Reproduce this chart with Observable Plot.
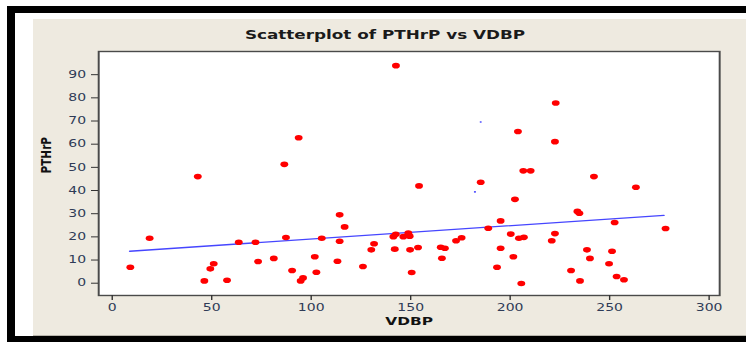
<!DOCTYPE html>
<html><head><meta charset="utf-8">
<script src="https://cdn.jsdelivr.net/npm/d3@7"></script>
<script src="https://cdn.jsdelivr.net/npm/@observablehq/plot@0.6"></script>
<style>
html,body{margin:0;padding:0;background:#fff;overflow:hidden}
#wrap{position:relative;width:746px;height:342px;overflow:hidden;background:#fff}
.blk{position:absolute;background:#000}
#beige{position:absolute;left:33px;top:19px;width:713px;height:316px;background:#eeeae0;border-bottom:1px solid #b8b5ac}
#stretch{position:absolute;left:0;top:0;height:342px;transform-origin:0 0}
#title{position:absolute;top:28px;height:15px;line-height:15px;text-align:center;font:bold 12px "DejaVu Sans",sans-serif;color:#1a1a1a;white-space:nowrap}
</style></head><body>
<div id="wrap">
  <div class="blk" style="left:7px;top:6px;width:739px;height:7px"></div>
  <div class="blk" style="left:7px;top:6px;width:8px;height:336px"></div>
  <div class="blk" style="left:7px;top:336px;width:739px;height:6px"></div>
  <div id="beige"></div>
  <div id="stretch"><div id="title">Scatterplot of PTHrP vs VDBP</div></div>
</div>
<script>
// Data
const vdbp = [9.1,18.8,43.0,46.3,49.3,51.0,57.7,63.6,72.0,73.3,81.2,86.5,87.3,90.4,93.7,94.7,95.9,101.8,102.6,105.3,
  113.2,114.3,114.3,116.8,126.0,130.2,131.6,141.3,142.5,142.0,142.6,146.3,148.8,149.5,149.7,150.5,153.7,154.2,165.1,167.2,
  165.7,172.8,175.6,185.2,189.0,193.4,195.2,195.2,200.3,201.6,202.4,203.9,205.6,204.4,206.9,206.6,210.3,220.9,222.5,222.5,
  222.9,230.6,233.8,234.8,235.1,238.6,240.1,242.1,249.7,251.2,252.5,253.5,257.2,263.2,278.1];
const pthrp = [6.9,19.4,46.0,1.0,6.2,8.4,1.3,17.7,17.7,9.4,10.7,51.3,19.7,5.5,62.8,1.0,2.3,11.4,4.7,19.4,
  9.5,29.5,18.1,24.3,7.2,14.4,17.0,20.1,21.1,14.7,93.9,20.1,21.6,20.3,14.4,4.6,15.4,42.0,15.5,15.1,
  10.8,18.3,19.6,43.6,23.7,6.9,26.9,15.1,21.2,11.4,36.2,65.5,-0.1,19.4,19.8,48.5,48.5,18.3,21.4,61.1,
  77.8,5.5,31.0,30.2,1.0,14.4,10.7,46.0,8.4,13.8,26.2,2.9,1.5,41.4,23.6];
// Fitted regression line end points
const fitX = [8.8, 277.3];
const fitY = [13.8, 29.3];
// small blue specks in the picture
const speckX = [185.2, 182.3];
const speckY = [69.6, 39.4];
const xTicks = [0, 50, 100, 150, 200, 250, 300];
const yTicks = [0, 10, 20, 30, 40, 50, 60, 70, 80, 90];

const S = 1.4; // horizontal stretch of the reference image
const W = 746 / S;
const stretch = document.getElementById("stretch");
stretch.style.width = W + "px";
stretch.style.transform = `scaleX(${S})`;
const title = document.getElementById("title");
title.style.left = (385 / S - 150) + "px";
title.style.width = "300px";

const points = vdbp.map((x, i) => ({x, y: pthrp[i]}));
const fit = fitX.map((x, i) => ({x, y: fitY[i]}));
const specks = speckX.map((x, i) => ({x, y: speckY[i]}));

const chart = Plot.plot({
  width: W,
  height: 342,
  marginLeft: 98 / S,
  marginRight: 27 / S,
  marginTop: 51,
  marginBottom: 47,
  style: {background: "transparent", fontFamily: "DejaVu Sans, sans-serif", fontSize: "10px", color: "#2f3b57", position: "absolute", left: "0px", top: "0px", maxWidth: "none"},
  x: {domain: [-6.8, 305.3]},
  y: {domain: [-5.3, 100]},
  marks: [
    Plot.frame({fill: "white", stroke: "#4a4a4a", strokeWidth: 1.4}),
    Plot.axisX({ticks: xTicks, tickFormat: d => String(d), tickSize: 5, tickPadding: 3, stroke: "#333", label: null}),
    Plot.axisY({ticks: yTicks, tickFormat: d => String(d), tickSize: 5, tickPadding: 4, stroke: "#333", label: null}),
    Plot.text(["VDBP"], {frameAnchor: "bottom", dy: 26, lineAnchor: "middle", fontWeight: "bold", fontSize: 11, fill: "#111"}),
    Plot.text(["PTHrP"], {frameAnchor: "left", dx: 32.9 - 98 / S, rotate: -90, lineAnchor: "middle", fontWeight: "bold", fontSize: 10.5, fill: "#111"}),
    Plot.line(fit, {x: "x", y: "y", stroke: "#4646ff", strokeWidth: 1.3}),
    Plot.dot(specks, {x: "x", y: "y", r: 0.8, fill: "#3a3aff"}),
    Plot.dot(points, {x: "x", y: "y", r: 2.8, fill: "#ff0000"})
  ]
});
stretch.appendChild(chart);
</script>
</body></html>
